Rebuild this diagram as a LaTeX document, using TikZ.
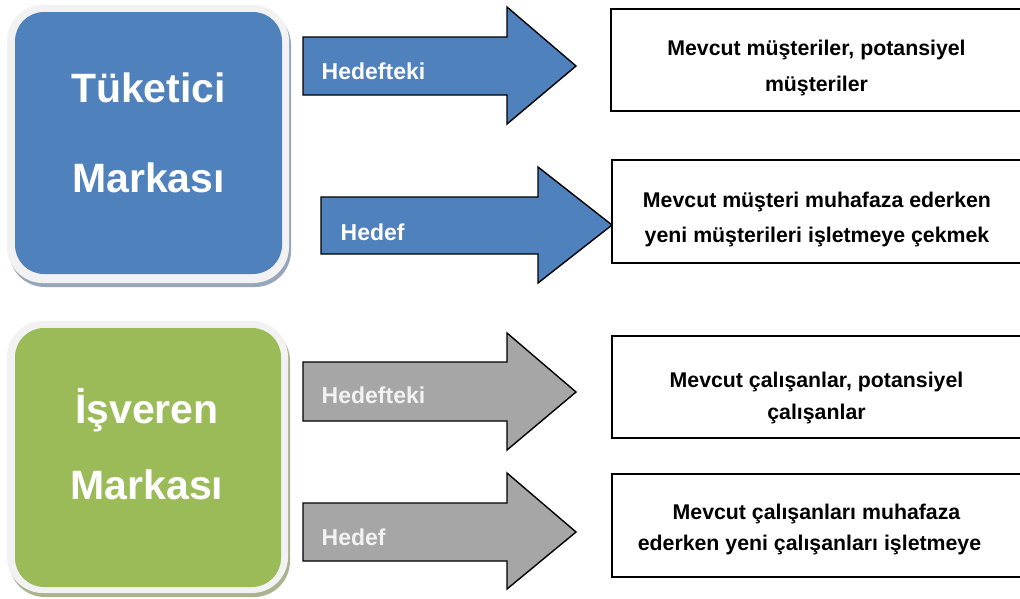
\documentclass[tikz,border=0pt]{standalone}
\usepackage{fontspec}
\setmainfont{Liberation Sans}
\definecolor{blueF}{HTML}{4F81BD}
\definecolor{greenF}{HTML}{9BBB59}
\definecolor{grayA}{HTML}{A6A6A6}
\definecolor{frameC}{HTML}{F2F2F2}
\definecolor{shadowB}{HTML}{98A6BA}
\definecolor{shadowG}{HTML}{A9B38F}
\tikzset{
  frame/.style={fill=frameC, rounded corners=36pt},
  bigbox/.style={draw=none, rounded corners=29pt, inner sep=0pt},
  arrowshape/.style={draw=black, line width=1.4pt, line join=miter},
  rbox/.style={draw=black, line width=1.4pt, fill=white},
  albl/.style={anchor=base west, inner sep=0pt, font=\fontsize{23}{27}\selectfont\bfseries},
  btext/.style={anchor=base, inner sep=0pt, text=white},
  rtext/.style={anchor=base, inner sep=0pt, text=black}
}
\begin{document}
\begin{tikzpicture}[x=1pt,y=-1pt]
\useasboundingbox (0,0) rectangle (1020,598);
\fill[white] (0,0) rectangle (1020,598);

% consumer brand box
\fill[shadowB, rounded corners=36pt] (9,9) rectangle (291,287);
\fill[frame] (7,5) rectangle (289,283);
\node[bigbox, fill=blueF, minimum width=267pt, minimum height=262pt] (tuk) at (148.5,143) {};
\node[btext] (tuktxt) at (148.5,102) {\parbox[t]{260pt}{\centering\fontsize{41}{90}\selectfont\bfseries Tüketici\\Markası}};

% employer brand box
\fill[shadowG, rounded corners=36pt] (9,325) rectangle (290,597);
\fill[frame] (7,321) rectangle (288,593);
\node[bigbox, fill=greenF, minimum width=266pt, minimum height=259pt] (isv) at (148,457.5) {};
\node[btext] (isvtxt) at (147,423) {\parbox[t]{260pt}{\centering\fontsize{41}{76}\selectfont\bfseries İşveren\\Markası}};

% arrows
\draw[arrowshape, fill=blueF] (303,37) -- (507,37) -- (507,7) -- (576,66) -- (507,124) -- (507,95) -- (303,95) -- cycle;
\node[albl, text=white] (a1) at (321.5,79) {Hedefteki};
\draw[arrowshape, fill=blueF] (321,197) -- (538,197) -- (538,167) -- (612,225) -- (538,283) -- (538,254) -- (321,254) -- cycle;
\node[albl, text=white] (a2) at (340.5,240) {Hedef};
\draw[arrowshape, fill=grayA] (303,362) -- (507,362) -- (507,333) -- (576,392) -- (507,450) -- (507,421) -- (303,421) -- cycle;
\node[albl, text=frameC] (a3) at (321.5,403) {Hedefteki};
\draw[arrowshape, fill=grayA] (303,503) -- (507,503) -- (507,473) -- (576,532) -- (507,589) -- (507,561) -- (303,561) -- cycle;
\node[albl, text=frameC] (a4) at (321.5,545) {Hedef};

% right boxes
\draw[rbox] (611,9) rectangle (1030,111);
\node[rtext] (t1) at (816.5,55) {\parbox[t]{400pt}{\centering\fontsize{21.3}{36.5}\selectfont\bfseries Mevcut müşteriler, potansiyel\\müşteriler}};
\draw[rbox] (612,160) rectangle (1030,263);
\node[rtext] (t2) at (817,207) {\parbox[t]{400pt}{\centering\fontsize{21.3}{35}\selectfont\bfseries Mevcut müşteri muhafaza ederken\\yeni müşterileri işletmeye çekmek}};
\draw[rbox] (612,336) rectangle (1030,438);
\node[rtext] (t3) at (816.5,387) {\parbox[t]{400pt}{\centering\fontsize{21.3}{32}\selectfont\bfseries Mevcut çalışanlar, potansiyel\\çalışanlar}};
\draw[rbox] (612,474) rectangle (1030,577);
\node[rtext] (t4) at (816.5,519) {\parbox[t]{400pt}{\centering\fontsize{21.3}{31}\selectfont\bfseries Mevcut çalışanları muhafaza\\ederken yeni çalışanları işletmeye\kern14pt}};
\end{tikzpicture}
\end{document}
